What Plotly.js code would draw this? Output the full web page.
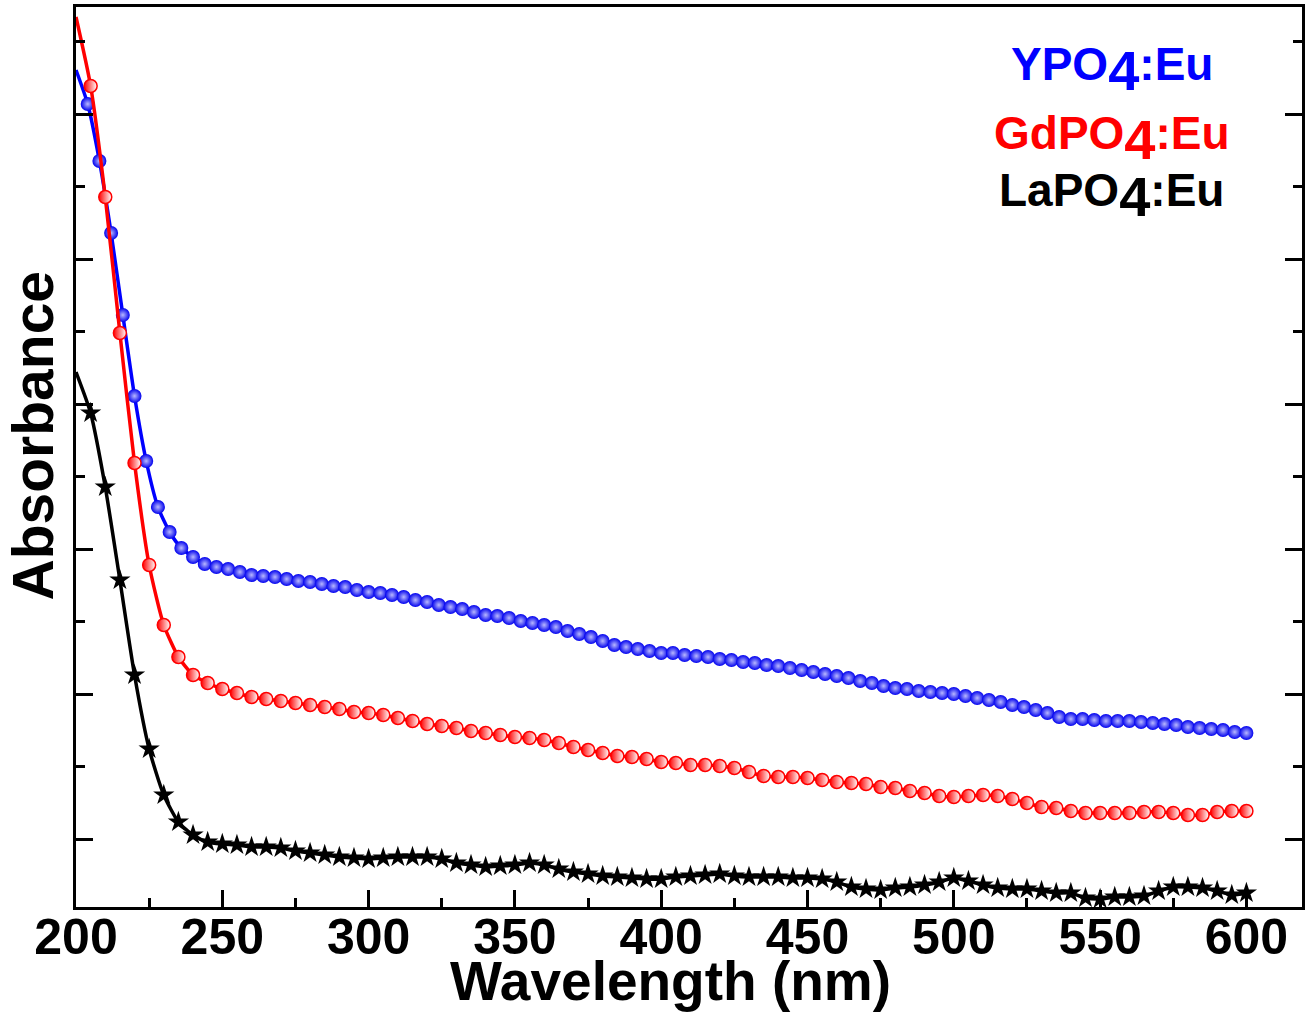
<!DOCTYPE html>
<html>
<head>
<meta charset="utf-8">
<script src="https://cdn.plot.ly/plotly-3.0.1.min.js"></script>
<style>html,body{margin:0;padding:0;background:#fff;}#chart{width:1305px;height:1018px;}</style>
</head>
<body>
<div id="chart"></div>
<script>
// Wavelength grids (nm)
const wlY = [200,204,208,212,216,220,224,228,232,236,240,244,248,252,256,260,264,268,272,276,280,284,288,292,296,300,304,308,312,316,320,324,328,332,336,340,344,348,352,356,360,364,368,372,376,380,384,388,392,396,400,404,408,412,416,420,424,428,432,436,440,444,448,452,456,460,464,468,472,476,480,484,488,492,496,500,504,508,512,516,520,524,528,532,536,540,544,548,552,556,560,564,568,572,576,580,584,588,592,596,600];
const wl5 = [200,205,210,215,220,225,230,235,240,245,250,255,260,265,270,275,280,285,290,295,300,305,310,315,320,325,330,335,340,345,350,355,360,365,370,375,380,385,390,395,400,405,410,415,420,425,430,435,440,445,450,455,460,465,470,475,480,485,490,495,500,505,510,515,520,525,530,535,540,545,550,555,560,565,570,575,580,585,590,595,600];

// Absorbance (arbitrary units)
const absYPO4 = [837,803,746,674,592,511,446,400,375,359,350,343,340,338,335,332,331,330,328,326,325,323,321,320,317,315,314,312,310,307,305,302,300,298,295,292,291,289,286,284,282,280,276,273,270,266,262,260,258,256,254,254,252,251,250,248,247,245,244,242,241,239,237,235,233,231,229,226,224,221,219,218,216,215,214,213,211,209,207,205,202,200,197,194,190,188,188,187,186,186,186,185,184,183,182,180,179,178,177,175,174];
const absGdPO4 = [890,821,710,574,444,342,282,250,232,224,218,214,210,208,206,204,202,200,198,195,194,192,189,186,183,181,179,176,174,172,170,169,167,164,160,157,154,151,150,148,145,144,142,142,141,139,135,131,130,130,129,127,125,124,123,120,119,116,114,111,110,111,112,111,108,104,100,99,96,94,94,94,94,95,95,94,92,92,95,96,96];
const absLaPO4 = [535,494,420,327,232,158,112,85,72,65,63,62,60,60,59,56,54,52,50,49,48,49,50,50,50,48,44,42,40,41,42,44,42,38,35,33,31,30,29,28,28,30,31,32,33,31,30,30,30,29,29,28,25,20,18,17,19,20,22,25,29,26,22,19,18,18,16,14,14,9,8,10,10,11,16,20,20,19,16,12,14];

const xTickVals = [200,250,300,350,400,450,500,550,600];
const xTickText = ['200','250','300','350','400','450','500','550','600'];
const seriesNames = ['YPO4:Eu','GdPO4:Eu','LaPO4:Eu'];

const FONT = 'Arial, "Liberation Sans", sans-serif';

const traces = [
  {x: wlY, y: absYPO4, mode:'lines', line:{color:'#0000ff', width:3.5, shape:'spline', smoothing:0.6}, showlegend:false, hoverinfo:'skip'},
  {x: wlY.slice(1), y: absYPO4.slice(1), mode:'markers', name: seriesNames[0], showlegend:false,
   marker:{symbol:'circle', size:14, color:'#0000ee', gradient:{type:'radial', color:'#b8b8ff'}, line:{width:0}}},
  {x: wl5, y: absGdPO4, mode:'lines', line:{color:'#ff0000', width:3.5, shape:'spline', smoothing:0.6}, showlegend:false, hoverinfo:'skip'},
  {x: wl5.slice(1), y: absGdPO4.slice(1), mode:'markers', name: seriesNames[1], showlegend:false,
   marker:{symbol:'circle', size:13, color:'#ff0000', gradient:{type:'horizontal', color:'#ffffff'}, line:{width:1.5, color:'#ff0000'}}},
  {x: wl5, y: absLaPO4, mode:'lines', line:{color:'#000000', width:3.5, shape:'spline', smoothing:0.6}, showlegend:false, hoverinfo:'skip'},
  {x: wl5.slice(1), y: absLaPO4.slice(1), mode:'markers', name: seriesNames[2], showlegend:false,
   marker:{symbol:'star', size:16, color:'#000000', line:{width:0}}}
];

function legendText(base, rest){
  return base + '<sub><span style="font-size:56px">4</span></sub>' + rest;
}

const layout = {
  width:1305, height:1018,
  margin:{l:76, r:3, t:7, b:111},
  paper_bgcolor:'#ffffff', plot_bgcolor:'#ffffff',
  font:{family:FONT, color:'#000'},
  xaxis:{
    range:[200,619], tickmode:'array', tickvals:xTickVals, ticktext:xTickText,
    ticks:'inside', ticklen:17, tickwidth:3, tickcolor:'#000',
    minor:{dtick:25, tick0:200, ticks:'inside', ticklen:9, tickwidth:3, tickcolor:'#000', showgrid:false},
    showline:true, linewidth:3, linecolor:'#000', mirror:true,
    showgrid:false, zeroline:false, ticklabelstandoff:-16,
    tickfont:{family:FONT, size:50, color:'#000', weight:'bold'}
  },
  yaxis:{
    range:[0,900], tickmode:'linear', tick0:68, dtick:145,
    ticks:'inside', ticklen:17, tickwidth:3, tickcolor:'#000',
    minor:{dtick:72.5, tick0:68, ticks:'inside', ticklen:9, tickwidth:3, tickcolor:'#000', showgrid:false},
    showticklabels:false,
    showline:true, linewidth:3, linecolor:'#000', mirror:'ticks',
    showgrid:false, zeroline:false
  },
  annotations:[
    {xref:'paper', yref:'paper', x:0.485, y:-0.082, xanchor:'center', yanchor:'middle', showarrow:false,
     text:'<b>Wavelength (nm)</b>', font:{family:FONT, size:55, color:'#000'}},
    {xref:'paper', yref:'paper', x:-0.035, y:0.523, xanchor:'center', yanchor:'middle', showarrow:false, textangle:-90,
     text:'<b>Absorbance</b>', font:{family:FONT, size:57, color:'#000'}},
    {xref:'paper', yref:'paper', x:0.845, y:0.93, xanchor:'center', yanchor:'middle', showarrow:false,
     text:'<b>'+legendText('YPO',':Eu')+'</b>', font:{family:FONT, size:46, color:'#0000ff'}},
    {xref:'paper', yref:'paper', x:0.845, y:0.853, xanchor:'center', yanchor:'middle', showarrow:false,
     text:'<b>'+legendText('GdPO',':Eu')+'</b>', font:{family:FONT, size:46, color:'#ff0000'}},
    {xref:'paper', yref:'paper', x:0.845, y:0.79, xanchor:'center', yanchor:'middle', showarrow:false,
     text:'<b>'+legendText('LaPO',':Eu')+'</b>', font:{family:FONT, size:46, color:'#000000'}}
  ]
};

Plotly.newPlot('chart', traces, layout, {displayModeBar:false, staticPlot:true});
</script>
</body>
</html>
